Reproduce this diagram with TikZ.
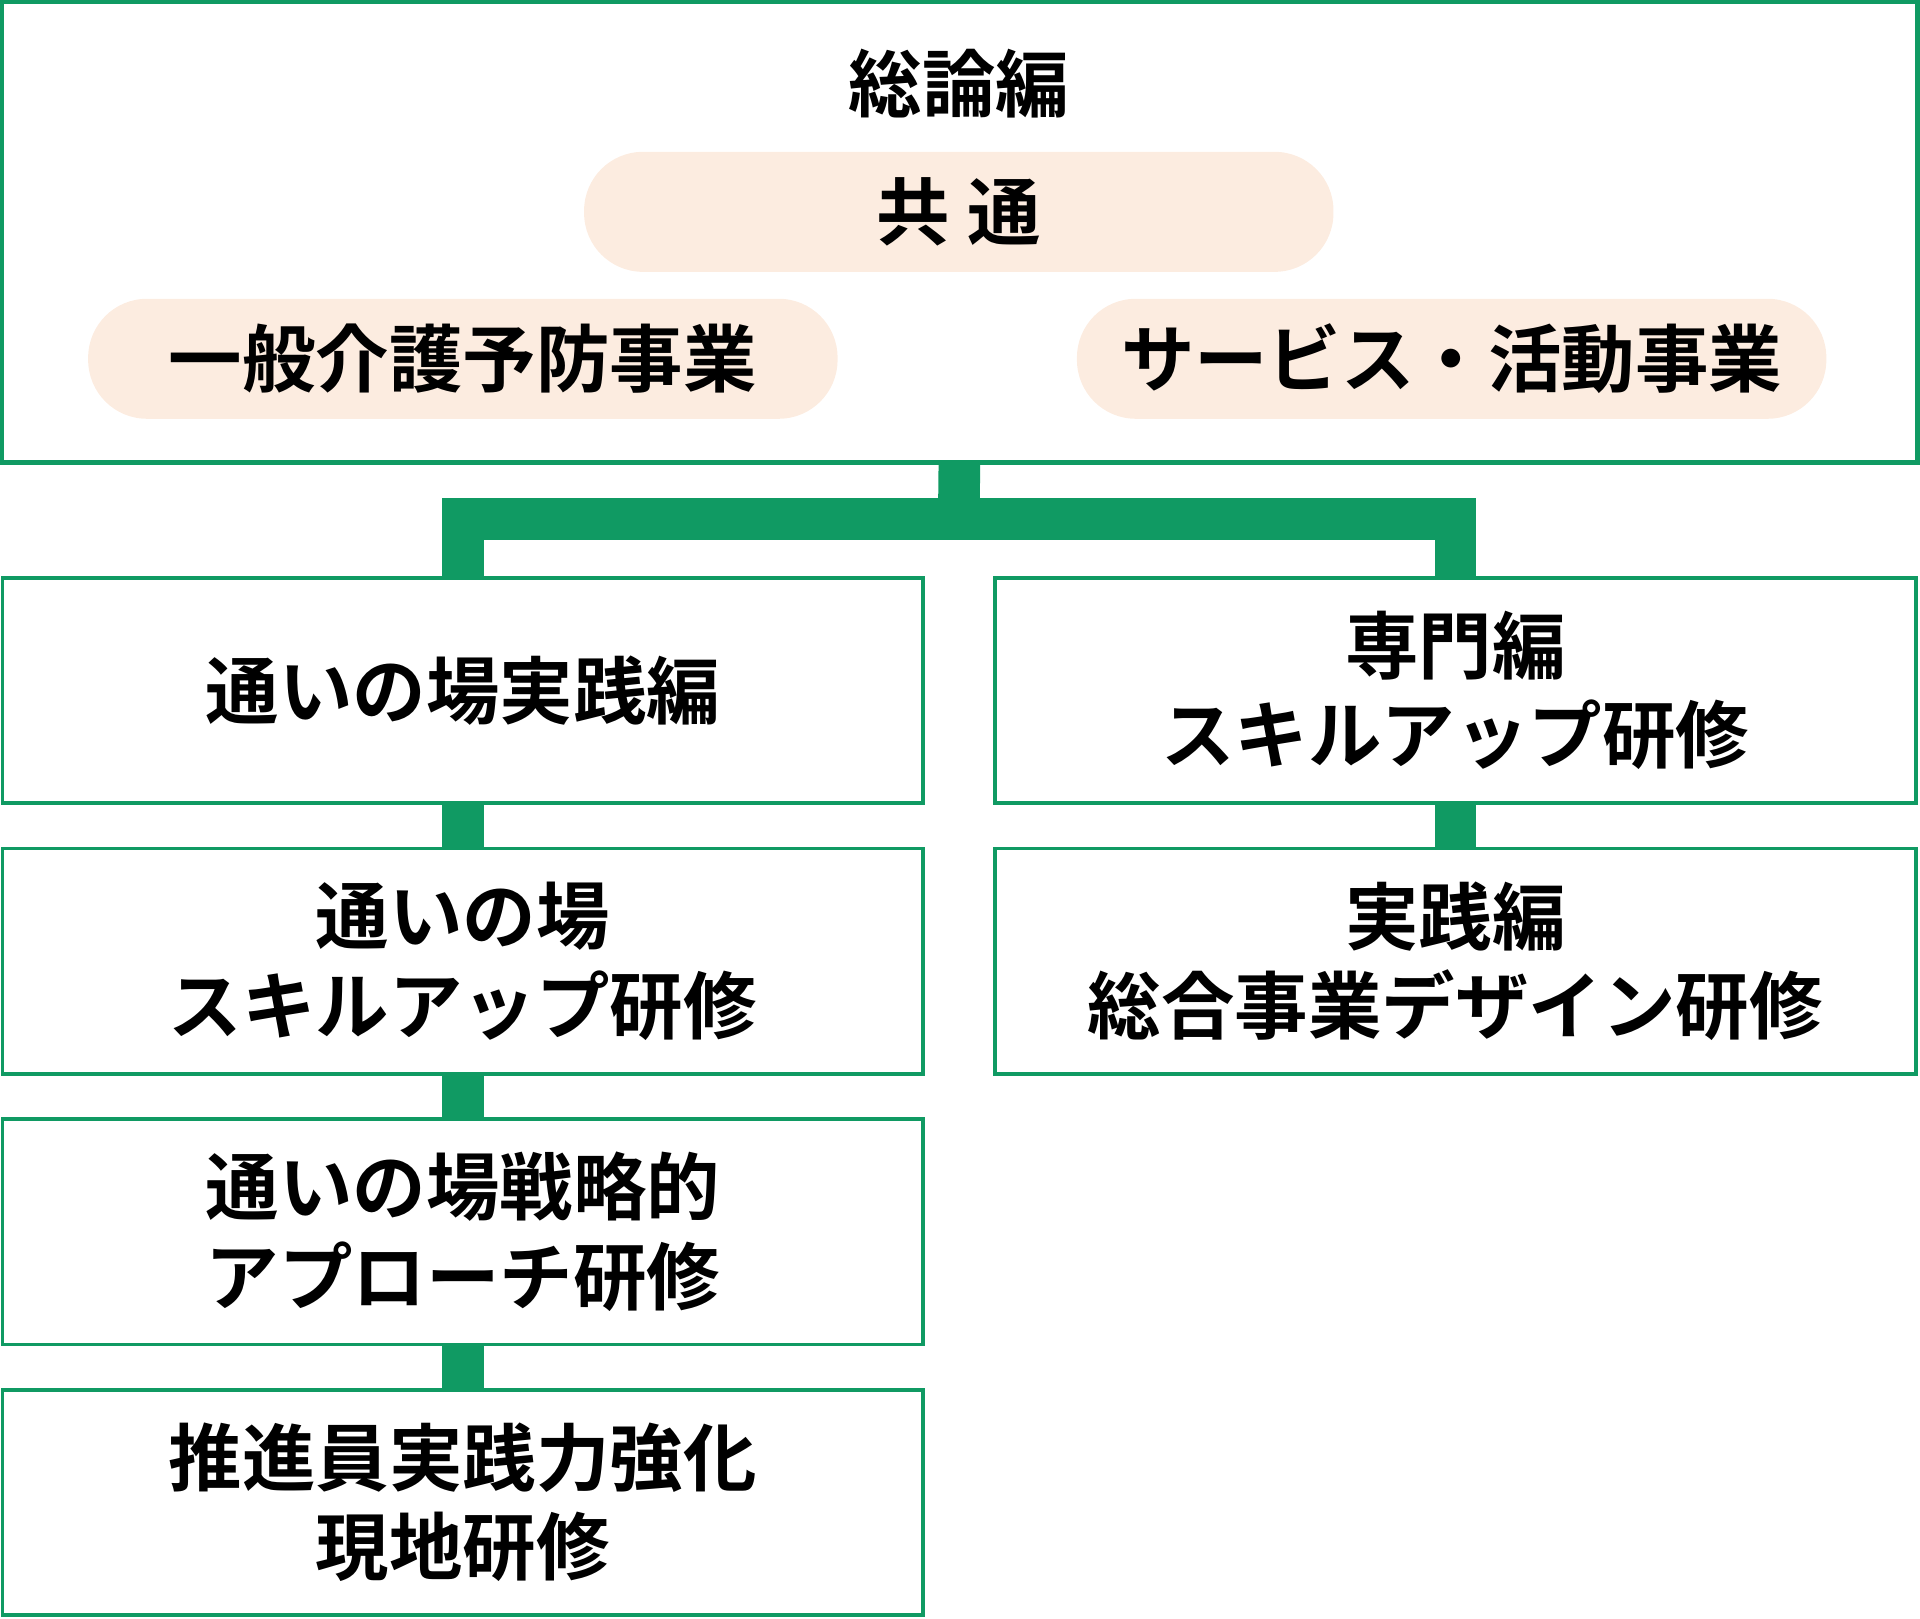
\documentclass[tikz,border=0pt]{standalone}
\usepackage{fontspec}
\setmainfont{Noto Sans CJK JP}[BoldFont={Noto Sans CJK JP Bold}]
\definecolor{gr}{HTML}{109A63}
\definecolor{pk}{HTML}{FCECE0}
\begin{document}
\begin{tikzpicture}[x=0.5pt,y=-0.5pt,
 box/.style={draw=gr,line width=1.5pt,minimum width=376pt,minimum height=92pt,inner sep=0pt,align=center,font=\fontsize{30}{36.5}\selectfont\bfseries},
 pill/.style={fill=pk,rounded corners=24pt,minimum width=306pt,minimum height=49pt,inner sep=0pt,font=\fontsize{30}{36}\selectfont\bfseries},
 conn/.style={draw=gr,line width=17pt}]
\useasboundingbox (0,0) rectangle (1568,1322);
\node[draw=gr,line width=1.5pt,minimum width=781.5pt,minimum height=187.5pt,inner sep=0pt] (top) at (783.5,189.5) {};
\node[font=\fontsize{30}{36}\selectfont\bfseries] (t) at (783,68) {総論編};
\node[pill] (c) at (783,173) {共\ 通};
\node[pill] (pl) at (378,293) {一般介護予防事業};
\node[pill] (pr) at (1185.5,293) {サービス・活動事業};
\coordinate (j) at (783,424);
\node[box] (l1) at (378,564) {通いの場実践編};
\node[box] (l2) at (378,785) {通いの場\\スキルアップ研修};
\node[box] (l3) at (378,1006) {通いの場戦略的\\アプローチ研修};
\node[box] (l4) at (378,1227) {推進員実践力強化\\現地研修};
\node[box] (r1) at (1188.5,564) {専門編\\スキルアップ研修};
\node[box] (r2) at (1188.5,785) {実践編\\総合事業デザイン研修};
\draw[conn] (top.south) -- (j);
\draw[conn] (l1.north) |- (j) -| (r1.north);
\draw[conn] (l1) -- (l2); \draw[conn] (l2) -- (l3); \draw[conn] (l3) -- (l4);
\draw[conn] (r1) -- (r2);
\foreach \n in {l1,l2,l3,l4,r1,r2} \node[box] at (\n) {};
\foreach \n/\s in {l1/通いの場実践編,l2/通いの場\\スキルアップ研修,l3/通いの場戦略的\\アプローチ研修,l4/推進員実践力強化\\現地研修,r1/専門編\\スキルアップ研修,r2/実践編\\総合事業デザイン研修} \node[box,fill=white] at (\n) {\s};
\draw[gr,line width=1.5pt] (top.south west) rectangle (top.north east);
\end{tikzpicture}
\end{document}
